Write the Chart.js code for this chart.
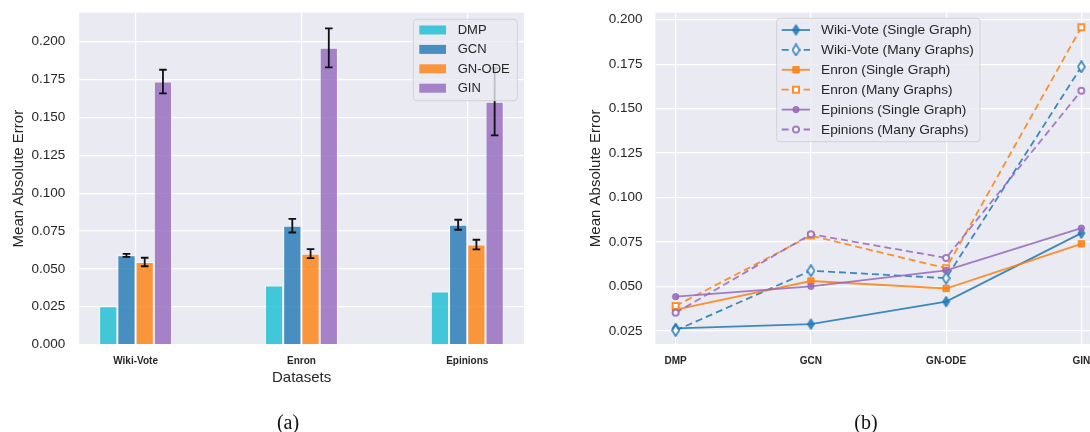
<!DOCTYPE html>
<html>
<head>
<meta charset="utf-8">
<script src="https://cdn.jsdelivr.net/npm/chart.js@4.4.1/dist/chart.umd.min.js"></script>
<style>
  html, body { margin: 0; padding: 0; background: #fff; width: 1090px; height: 432px; overflow: hidden; }
  #wrapA { position: absolute; left: 0; top: 0; width: 545px; height: 432px; }
  #wrapB { position: absolute; left: 545px; top: 0; width: 545px; height: 432px; overflow: hidden; }
  .cap { position: absolute; top: 410px; line-height: 24px; font-size: 20px; font-family: 'Liberation Serif', serif; color: #111; transform: translateX(-50%); }
</style>
</head>
<body>
<div id="wrapA"><canvas id="barChart" width="545" height="432"></canvas></div>
<div id="wrapB"><canvas id="lineChart" width="570" height="432"></canvas></div>
<div class="cap" style="left:288px">(a)</div>
<div class="cap" style="left:866px">(b)</div>
<script>
// Panel (a): categories and per-model values (Many Graphs setting)
const datasetNames = ['Wiki-Vote', 'Enron', 'Epinions'];
const modelNames = ['DMP', 'GCN', 'GN-ODE', 'GIN'];

const dmpMae = [0.0253, 0.0389, 0.0350];
const gcnMae = [0.0589, 0.0785, 0.0791];
const gnodeMae = [0.0545, 0.0600, 0.0660];
const ginMae = [0.1737, 0.1960, 0.1603];

const dmpErr = [0, 0, 0];
const gcnErr = [0.0010, 0.0045, 0.0033];
const gnodeErr = [0.0028, 0.0030, 0.0032];
const ginErr = [0.0078, 0.0129, 0.0222];

// Panel (b): one series per dataset / setting, over modelNames
const wikiSingle = [0.0265, 0.0289, 0.0415, 0.0800];
const wikiMany = [0.0253, 0.0589, 0.0547, 0.1735];
const enronSingle = [0.0370, 0.0531, 0.0489, 0.0740];
const enronMany = [0.0391, 0.0786, 0.0603, 0.1957];
const epinSingle = [0.0443, 0.0501, 0.0591, 0.0828];
const epinMany = [0.0352, 0.0794, 0.0661, 0.1601];

const FONT = "'Liberation Sans', Arial, sans-serif";
const TEXT = '#262626';
const PLOT_BG = '#eaeaf2';

const blue = 'rgba(31,119,180,0.85)';
const orange = 'rgba(255,127,14,0.85)';
const purple = 'rgba(148,103,189,0.85)';

// seaborn-like grey plot background
const plotBg = {
  id: 'plotBg',
  beforeDraw(chart) {
    const { ctx, chartArea: a } = chart;
    ctx.save();
    ctx.fillStyle = PLOT_BG;
    ctx.fillRect(a.left, a.top, a.right - a.left, a.bottom - a.top);
    ctx.restore();
  },
};

// keep the plot box where we put it (no auto padding for edge labels)
const fixX = (h) => (s) => { s.height = h; s.paddingLeft = 0; s.paddingRight = 0; };
const fixY = (w) => (s) => { s.width = w; s.paddingTop = 0; s.paddingBottom = 0; };

function legendFrame(ctx, x, y, w, h) {
  ctx.beginPath();
  ctx.roundRect(x, y, w, h, 3);
  ctx.fillStyle = 'rgba(234,234,242,0.8)';
  ctx.fill();
  ctx.lineWidth = 1;
  ctx.strokeStyle = 'rgba(204,204,204,0.8)';
  ctx.stroke();
}

/* ---------- (a) grouped bars ---------- */
const barColors = ['rgba(23,190,207,0.8)', 'rgba(31,119,180,0.8)', 'rgba(255,127,14,0.8)', 'rgba(148,103,189,0.8)'];
const barValues = [dmpMae, gcnMae, gnodeMae, ginMae];
const barErrors = [dmpErr, gcnErr, gnodeErr, ginErr];

const errorBars = {
  id: 'errorBars',
  afterDatasetsDraw(chart) {
    const { ctx, scales: { y } } = chart;
    ctx.save();
    ctx.strokeStyle = '#111';
    ctx.lineWidth = 1.8;
    chart.data.datasets.forEach((ds, i) => {
      const meta = chart.getDatasetMeta(i);
      ds.errors.forEach((e, j) => {
        if (!e) return;
        const bar = meta.data[j];
        const v = ds.data[j].y;
        const top = y.getPixelForValue(v + e);
        const bot = y.getPixelForValue(v - e);
        ctx.beginPath();
        ctx.moveTo(bar.x, top); ctx.lineTo(bar.x, bot);
        ctx.moveTo(bar.x - 3.8, top); ctx.lineTo(bar.x + 3.8, top);
        ctx.moveTo(bar.x - 3.8, bot); ctx.lineTo(bar.x + 3.8, bot);
        ctx.stroke();
      });
    });
    ctx.restore();
  },
};

const barLegend = {
  id: 'barLegend',
  afterDraw(chart) {
    const { ctx } = chart;
    ctx.save();
    legendFrame(ctx, 413.3, 19.3, 104, 81.4);
    ctx.font = '13px ' + FONT;
    ctx.textBaseline = 'middle';
    chart.data.datasets.forEach((ds, i) => {
      const cy = 30 + i * 19.4;
      ctx.fillStyle = ds.backgroundColor;
      ctx.fillRect(419.3, cy - 4.5, 26.7, 9);
      ctx.fillStyle = TEXT;
      ctx.fillText(ds.label, 457.7, cy + 0.5);
    });
    ctx.restore();
  },
};

new Chart(document.getElementById('barChart'), {
  type: 'bar',
  data: {
    datasets: modelNames.map((name, i) => ({
      label: name,
      data: barValues[i].map((v, j) => ({ x: j, y: v })),
      errors: barErrors[i],
      backgroundColor: barColors[i],
      borderColor: 'rgba(255,255,255,0.7)',
      borderWidth: 1,
      categoryPercentage: 0.44,
      barPercentage: 1,
    })),
  },
  options: {
    responsive: false,
    animation: false,
    layout: { padding: { left: 0, top: 12.7, right: 21, bottom: 45.5 } },
    plugins: { legend: { display: false }, tooltip: { enabled: false } },
    scales: {
      x: {
        type: 'linear',
        offset: false,
        min: -0.34,
        max: 2.342,
        afterFit: fixX(42),
        grid: { color: '#fff', lineWidth: 1.2, drawTicks: false, offset: false },
        border: { display: false },
        ticks: {
          stepSize: 1, includeBounds: false, autoSkip: false, maxRotation: 0, padding: 11,
          color: TEXT, font: { family: FONT, size: 10, weight: 'bold' },
          callback: (v) => datasetNames[v] ?? '',
        },
        title: { display: true, text: 'Datasets', color: TEXT, font: { family: FONT, size: 15 }, padding: { top: 0, bottom: 0 } },
      },
      y: {
        min: 0,
        max: 0.2192,
        afterFit: fixY(79.2),
        grid: { color: '#fff', lineWidth: 1.2, drawTicks: false },
        border: { display: false },
        ticks: {
          stepSize: 0.025, includeBounds: false, padding: 14,
          color: TEXT, font: { family: FONT, size: 13.5 },
          callback: (v) => v.toFixed(3),
        },
        title: { display: true, text: 'Mean Absolute Error', color: TEXT, font: { family: FONT, size: 15 }, padding: { top: 10, bottom: 0 } },
      },
    },
  },
  plugins: [plotBg, errorBars, barLegend],
});

/* ---------- (b) lines per dataset ---------- */
function thinDiamond(color, hollow) {
  const c = document.createElement('canvas');
  c.width = 9; c.height = 13;
  const g = c.getContext('2d');
  g.beginPath();
  g.moveTo(4.5, 1); g.lineTo(8, 6.5); g.lineTo(4.5, 12); g.lineTo(1, 6.5); g.closePath();
  g.fillStyle = hollow ? '#ffffff' : color;
  g.fill();
  g.lineWidth = hollow ? 1.8 : 1;
  g.strokeStyle = color;
  g.stroke();
  return c;
}

const lineSeries = [
  { label: 'Wiki-Vote (Single Graph)', values: wikiSingle, color: blue, dashed: false, marker: 'diamond' },
  { label: 'Wiki-Vote (Many Graphs)', values: wikiMany, color: blue, dashed: true, marker: 'diamond' },
  { label: 'Enron (Single Graph)', values: enronSingle, color: orange, dashed: false, marker: 'rect' },
  { label: 'Enron (Many Graphs)', values: enronMany, color: orange, dashed: true, marker: 'rect' },
  { label: 'Epinions (Single Graph)', values: epinSingle, color: purple, dashed: false, marker: 'circle' },
  { label: 'Epinions (Many Graphs)', values: epinMany, color: purple, dashed: true, marker: 'circle' },
];

function pointStyleOf(s) {
  if (s.marker === 'diamond') return thinDiamond(s.color, s.dashed);
  return s.marker;
}

function drawMarker(ctx, s, style, x, y) {
  if (s.marker === 'diamond') {
    ctx.drawImage(style, x - style.width / 2, y - style.height / 2);
    return;
  }
  ctx.beginPath();
  if (s.marker === 'rect') {
    const h = s.dashed ? 3 : 3.2;
    ctx.rect(x - h, y - h, 2 * h, 2 * h);
  } else {
    ctx.arc(x, y, s.dashed ? 3 : 3.2, 0, Math.PI * 2);
  }
  ctx.fillStyle = s.dashed ? '#ffffff' : s.color;
  ctx.fill();
  ctx.lineWidth = s.dashed ? 2 : 1;
  ctx.strokeStyle = s.color;
  ctx.stroke();
}

const lineStyles = lineSeries.map(pointStyleOf);

const lineLegend = {
  id: 'lineLegend',
  afterDraw(chart) {
    const { ctx } = chart;
    ctx.save();
    legendFrame(ctx, 231.7, 18.3, 203.3, 123.4);
    ctx.font = '13.7px ' + FONT;
    ctx.textBaseline = 'middle';
    lineSeries.forEach((s, i) => {
      const cy = 30 + i * 19.9;
      ctx.beginPath();
      ctx.setLineDash(s.dashed ? [7, 4] : []);
      ctx.moveTo(236.7, cy); ctx.lineTo(265, cy);
      ctx.strokeStyle = s.color;
      ctx.lineWidth = 1.8;
      ctx.stroke();
      ctx.setLineDash([]);
      drawMarker(ctx, s, lineStyles[i], 251, cy);
      ctx.fillStyle = TEXT;
      ctx.fillText(s.label, 276, cy + 0.5);
    });
    ctx.restore();
  },
};

new Chart(document.getElementById('lineChart'), {
  type: 'line',
  data: {
    datasets: lineSeries.map((s, i) => ({
      label: s.label,
      data: s.values.map((v, j) => ({ x: j, y: v })),
      borderColor: s.color,
      borderWidth: 1.8,
      borderDash: s.dashed ? [7, 4] : [],
      tension: 0,
      fill: false,
      order: lineSeries.length - i,
      pointStyle: lineStyles[i],
      pointRadius: s.marker === 'rect' ? (s.dashed ? 4.2 : 4.5) : (s.dashed ? 3 : 3.2),
      pointBorderWidth: s.dashed ? 2 : 1,
      pointBorderColor: s.color,
      pointBackgroundColor: s.dashed ? '#ffffff' : s.color,
    })),
  },
  options: {
    responsive: false,
    animation: false,
    layout: { padding: { left: 0, top: 12.7, right: 0, bottom: 58 } },
    plugins: { legend: { display: false }, tooltip: { enabled: false } },
    scales: {
      x: {
        type: 'linear',
        min: -0.149,
        max: 3.203,
        afterFit: fixX(30),
        grid: { color: '#fff', lineWidth: 1.2, drawTicks: false },
        border: { display: false },
        ticks: {
          stepSize: 1, includeBounds: false, autoSkip: false, maxRotation: 0, padding: 11,
          color: TEXT, font: { family: FONT, size: 10, weight: 'bold' },
          callback: (v) => modelNames[v] ?? '',
        },
      },
      y: {
        min: 0.0177,
        max: 0.2039,
        afterFit: fixY(110.5),
        grid: { color: '#fff', lineWidth: 1.2, drawTicks: false },
        border: { display: false },
        ticks: {
          stepSize: 0.025, includeBounds: false, padding: 13,
          color: TEXT, font: { family: FONT, size: 13.5 },
          callback: (v) => v.toFixed(3),
        },
        title: { display: true, text: 'Mean Absolute Error', color: TEXT, font: { family: FONT, size: 15 }, padding: { top: 41.4, bottom: 0 } },
      },
    },
  },
  plugins: [plotBg, lineLegend],
});
</script>
</body>
</html>
